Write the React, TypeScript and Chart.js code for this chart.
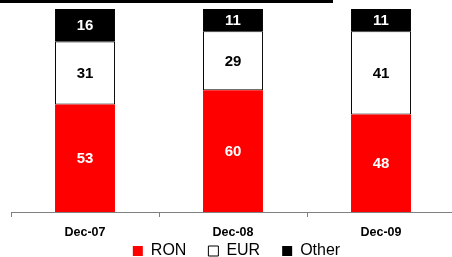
import React, { useEffect, useRef } from "react";
import { Chart, registerables } from "chart.js";

Chart.register(...registerables);

const categories = ["Dec-07", "Dec-08", "Dec-09"];
const ronValues = [53, 60, 48];
const eurValues = [31, 29, 41];
const otherValues = [16, 11, 11];
const seriesNames = ["RON", "EUR", "Other"];
const labelColors = ["#ffffff", "#000000", "#ffffff"];

const FONT = 'Arial, "Liberation Sans", sans-serif';
const LEGEND_CENTER_Y = 251;

const valueLabels = {
  id: "valueLabels",
  afterDatasetsDraw(chart: any) {
    const ctx = chart.ctx;
    ctx.save();
    ctx.font = `bold 15px ${FONT}`;
    ctx.textAlign = "center";
    ctx.textBaseline = "middle";
    chart.data.datasets.forEach((ds: any, i: number) => {
      const meta = chart.getDatasetMeta(i);
      meta.data.forEach((el: any, j: number) => {
        const { x, y, base } = el.getProps(["x", "y", "base"], true);
        ctx.fillStyle = labelColors[i];
        ctx.fillText(String(ds.data[j]), x, (y + base) / 2 + 1);
      });
    });
    ctx.restore();
  },
};

// move the legend up so it sits just under the category labels
const legendShift = {
  id: "legendShift",
  afterLayout(chart: any) {
    const lg = chart.legend;
    if (!lg) return;
    const pad = lg.options.labels.padding;
    const itemH = lg.options.labels.font.size || 16;
    const center = lg.top + pad + itemH / 2;
    const dy = center - LEGEND_CENTER_Y;
    lg.top -= dy;
    lg.bottom -= dy;
  },
};

export default function App() {
  const ref = useRef<HTMLCanvasElement | null>(null);

  useEffect(() => {
    if (!ref.current) return;
    Chart.defaults.font.family = FONT;
    const chart = new Chart(ref.current, {
      type: "bar",
      data: {
        labels: categories,
        datasets: [
          {
            label: seriesNames[0],
            data: ronValues,
            backgroundColor: "#ff0000",
            borderWidth: 0,
            barPercentage: 0.405,
            categoryPercentage: 1,
          },
          {
            label: seriesNames[1],
            data: eurValues,
            backgroundColor: "#ffffff",
            borderColor: "#000000",
            borderWidth: 1,
            borderSkipped: false,
            barPercentage: 0.405,
            categoryPercentage: 1,
          },
          {
            label: seriesNames[2],
            data: otherValues,
            backgroundColor: "#000000",
            borderWidth: 0,
            barPercentage: 0.405,
            categoryPercentage: 1,
          },
        ],
      },
      options: {
        responsive: false,
        animation: false,
        devicePixelRatio: 1,
        layout: { padding: { top: 9, left: 11, right: 0, bottom: 0 } },
        scales: {
          x: {
            stacked: true,
            offset: true,
            grid: {
              display: true,
              drawOnChartArea: false,
              drawTicks: true,
              tickLength: 5,
              color: "#808080",
              offset: true,
            },
            border: { display: true, color: "#808080", width: 1 },
            ticks: {
              color: "#000000",
              font: { size: 12.5, weight: "bold" },
              padding: 8.5,
            },
            afterFit: (s: any) => {
              s.height = 30;
            },
          },
          y: {
            stacked: true,
            min: 0,
            max: 100,
            position: "right",
            grid: { display: false },
            border: { display: false },
            ticks: { display: false },
            afterFit: (s: any) => {
              s.width = 7;
            },
          },
        },
        plugins: {
          legend: {
            position: "bottom",
            labels: {
              boxWidth: 10,
              boxHeight: 10,
              padding: 22,
              color: "#000000",
              font: { size: 16 },
            },
          },
          tooltip: { enabled: false },
        },
      },
      plugins: [valueLabels, legendShift],
    });
    return () => chart.destroy();
  }, []);

  return (
    <div
      style={{
        position: "fixed",
        left: 0,
        top: 0,
        width: 452,
        height: 257,
        overflow: "hidden",
        background: "#ffffff",
      }}
    >
      <div
        style={{
          position: "absolute",
          left: 0,
          top: 0,
          width: 333,
          height: 3,
          background: "#000000",
        }}
      />
      <canvas ref={ref} width={462} height={290} style={{ display: "block" }} />
    </div>
  );
}
